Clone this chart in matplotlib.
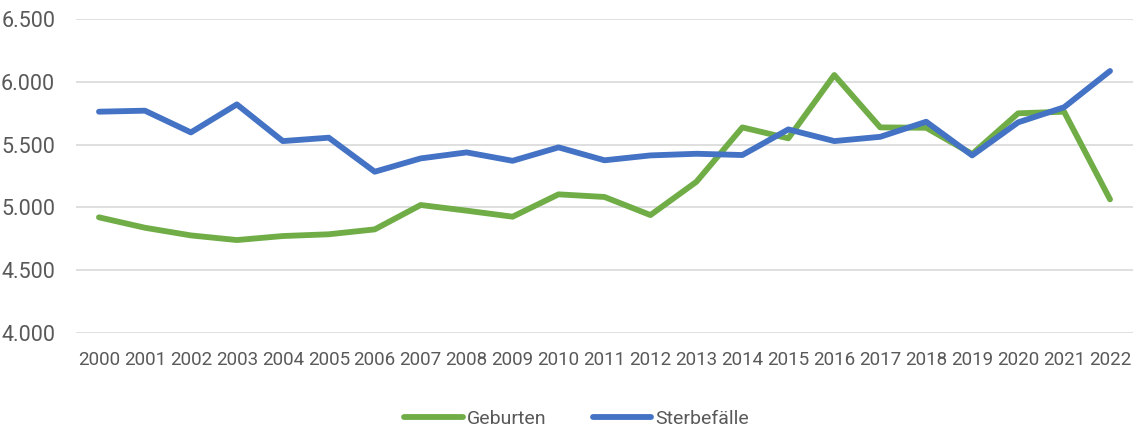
import matplotlib
matplotlib.use("Agg")
from matplotlib import pyplot as plt
from matplotlib.ticker import FuncFormatter

jahre = list(range(2000, 2023))
geburten = [4921, 4838, 4777, 4740, 4772, 4786, 4825, 5019, 4974, 4926,
            5104, 5083, 4939, 5204, 5637, 5550, 6054, 5637, 5634, 5425,
            5749, 5762, 5064]
sterbefaelle = [5762, 5770, 5597, 5820, 5528, 5555, 5284, 5390, 5438, 5371,
                5478, 5375, 5414, 5427, 5417, 5621, 5528, 5562, 5682, 5414,
                5677, 5797, 6086]

plt.rcParams['font.family'] = ['Liberation Sans Narrow', 'Roboto', 'DejaVu Sans']

fig = plt.figure(figsize=(11.35, 4.3), dpi=100)
ax = fig.add_axes([76/1135, (430-333)/430, (1133-76)/1135, (333-19)/430])

x = list(range(len(jahre)))
ax.plot(x, geburten, color='#70AD47', lw=4.2, solid_capstyle='round',
        solid_joinstyle='round', label='Geburten', zorder=3)
ax.plot(x, sterbefaelle, color='#4472C4', lw=4.2, solid_capstyle='round',
        solid_joinstyle='round', label='Sterbefälle', zorder=3)

ax.set_xlim(-0.5, len(jahre) - 0.5)
ax.set_ylim(4000, 6500)
ax.set_yticks(range(4000, 6501, 500))
ax.yaxis.set_major_formatter(FuncFormatter(lambda v, p: f"{int(v):,}".replace(",", ".")))
ax.set_xticks(x)
ax.set_xticklabels([str(j) for j in jahre])

ax.grid(axis='y', color='#D9D9D9', lw=1.2)
ax.set_axisbelow(True)
for s in ax.spines.values():
    s.set_visible(False)
ax.tick_params(axis='both', length=0, colors='#595959')
ax.tick_params(axis='y', labelsize=15.5, pad=15)
ax.tick_params(axis='x', labelsize=13.5, pad=13)

fig.legend(loc='center', bbox_to_anchor=(0.508, 0.025), ncol=2, frameon=False,
           fontsize=14, handlelength=3.0, handletextpad=0.2, columnspacing=2.4,
           labelcolor='#595959')

fig.savefig('out.png', dpi=100)
